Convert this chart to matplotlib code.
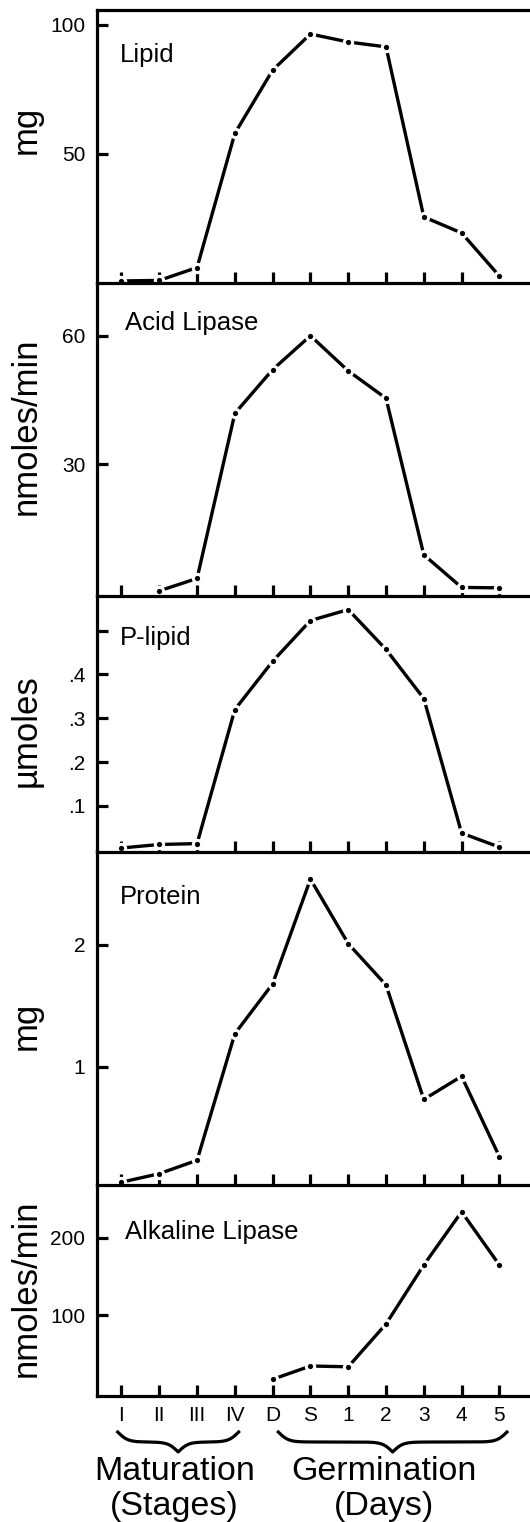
import numpy as np
import matplotlib.pyplot as plt

plt.rcParams['font.family'] = ['Liberation Sans', 'DejaVu Sans']

# x categories: maturation stages, then dry seed / soaked seed / germination days
stages = ['I', 'II', 'III', 'IV', 'D', 'S', '1', '2', '3', '4', '5']
nan = np.nan

lipid = [0.8, 1.0, 6, 58, 82.5, 96.5, 93.4, 91.5, 25.6, 19.4, 2.7]
acid_lipase = [nan, 0.5, 3.4, 41.9, 52.1, 60, 51.8, 45.4, 8.9, 1.3, 1.2]
p_lipid = [0.004, 0.012, 0.014, 0.32, 0.43, 0.523, 0.548, 0.457, 0.345, 0.038, 0.006]
protein = [0.05, 0.12, 0.23, 1.27, 1.68, 2.54, 2.01, 1.67, 0.73, 0.92, 0.26]
alkaline_lipase = [nan, nan, nan, nan, 16.8, 34, 33, 88.4, 164.7, 233.6, 164.7]

names = ['Lipid', 'Acid Lipase', 'P-lipid', 'Protein', 'Alkaline Lipase']
units = ['mg', 'nmoles/min', 'µmoles', 'mg', 'nmoles/min']
series = [lipid, acid_lipase, p_lipid, protein, alkaline_lipase]
yticks = [[50, 100], [30, 60], [0.1, 0.2, 0.3, 0.4, 0.5], [1, 2], [100, 200]]
yticklabels = [['50', '100'], ['30', '60'], ['.1', '.2', '.3', '.4', ''], ['1', '2'], ['100', '200']]
ylims = [(0, 105.8), (-0.7, 72.3), (-0.004, 0.579), (0.027, 2.767), (-4.8, 268.2)]

# panel edges in pixels from the top of the figure
W, H = 530, 1522
edges = [10, 283, 596, 851.5, 1185, 1396]
left_px = 97
name_x = [0.053, 0.065, 0.053, 0.053, 0.065]
name_y = [0.835, 0.872, 0.836, 0.864, 0.777]
label_y = [0.56, 0.543, 0.472, 0.477, 0.512]

fig = plt.figure(figsize=(W / 100, H / 100), dpi=100)
x = np.arange(len(stages))

axes = []
for i in range(5):
    top, bot = edges[i], edges[i + 1]
    ax = fig.add_axes([left_px / W, 1 - bot / H, 1 - left_px / W, (bot - top) / H])
    ax.plot(x, series[i], color='black', lw=2.4, marker='o', ms=6,
            mfc='black', mec='white', mew=2.2, clip_on=False, zorder=2)
    ax.set_xlim(-0.648, 10.81)
    ax.set_ylim(*ylims[i])
    ax.set_yticks(yticks[i])
    ax.set_yticklabels(yticklabels[i])
    ax.set_xticks(x)
    ax.spines['right'].set_visible(False)
    if i > 0:
        ax.spines['top'].set_visible(False)
    for s in ax.spines.values():
        s.set_linewidth(2.3)
        s.set_zorder(3)
    ax.tick_params(direction='in', length=8, width=2.3, labelsize=15, pad=8.5)
    ax.tick_params(axis='x', pad=7)
    if i < 4:
        ax.tick_params(axis='x', labelbottom=False)
    else:
        ax.set_xticklabels(stages)
    ax.text(name_x[i], name_y[i], names[i], transform=ax.transAxes, fontsize=18.5, va='center')
    ax.set_ylabel(units[i], fontsize=25, va='center')
    ax.yaxis.set_label_coords(-0.164, label_y[i])
    ax.patch.set_alpha(0)
    axes.append(ax)

ax5 = axes[-1]
trans = ax5.get_xaxis_transform()
h5 = edges[5] - edges[4]


def brace(x0, x1, beta):
    xs = np.linspace(x0, x1, 401)
    half = xs[:201]
    yh = 1 / (1 + np.exp(-beta * (half - half[0]))) + 1 / (1 + np.exp(-beta * (half - half[-1])))
    yy = np.concatenate((yh, yh[-2::-1]))
    ypx = 1422 + 20 * yy
    ax5.plot(xs, (edges[5] - ypx) / h5, color='black', lw=2.3, transform=trans, clip_on=False)


brace(-0.1, 3.1, 7.5)
brace(4.15, 10.2, 7.5)

for lab, sub, cx in [('Maturation', '(Stages)', np.mean(x[:4]) - 0.1), ('Germination', '(Days)', np.mean(x[4:]) - 0.05)]:
    ax5.text(cx, (edges[5] - 1472) / h5, lab, transform=trans, ha='center', va='center', fontsize=24.5)
    ax5.text(cx, (edges[5] - 1507) / h5, sub, transform=trans, ha='center', va='center', fontsize=24.5)

fig.savefig('out.png', dpi=100)
